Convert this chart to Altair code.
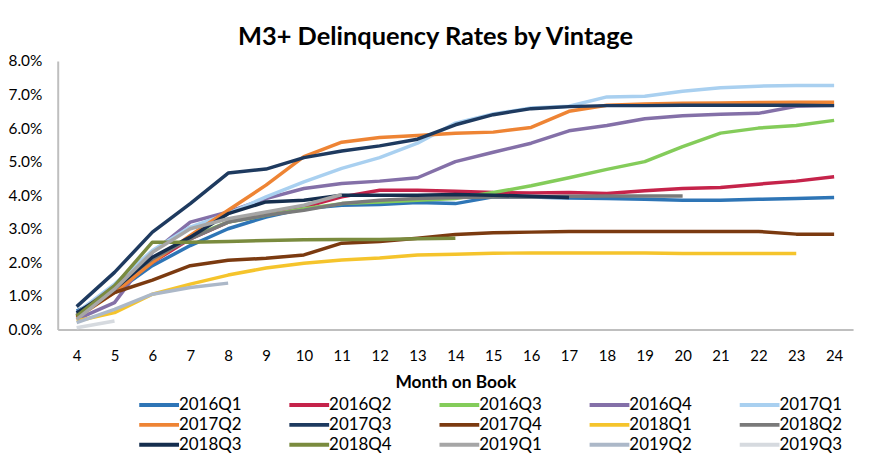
import altair as alt
import pandas as pd

months = list(range(4, 25))
vintages = ["2016Q1", "2016Q2", "2016Q3", "2016Q4", "2017Q1",
            "2017Q2", "2017Q3", "2017Q4", "2018Q1", "2018Q2",
            "2018Q3", "2018Q4", "2019Q1", "2019Q2", "2019Q3"]
colors = ["#2E75B6", "#C5234A", "#84CC5A", "#8470A8", "#A9D0F0",
          "#EE8434", "#1E3A5F", "#7B3A10", "#F5C42C", "#7A7A7A",
          "#152E4E", "#7A8B3E", "#A6A6A6", "#ACB8C8", "#D6DADF"]

# delinquency rate (%) by month on book, starting at month 4
s2016Q1 = [0.55, 1.1, 1.9, 2.5, 3.0, 3.35, 3.6, 3.7, 3.72, 3.78, 3.75, 3.95, 3.95, 3.92, 3.9, 3.88, 3.85, 3.85, 3.88, 3.9, 3.93]
s2016Q2 = [0.4, 1.15, 2.0, 2.7, 3.2, 3.45, 3.65, 3.95, 4.15, 4.15, 4.12, 4.08, 4.07, 4.08, 4.05, 4.13, 4.2, 4.23, 4.33, 4.42, 4.55]
s2016Q3 = [0.4, 1.2, 2.1, 2.75, 3.2, 3.4, 3.6, 3.75, 3.8, 3.85, 3.9, 4.08, 4.28, 4.52, 4.77, 5.0, 5.45, 5.85, 6.0, 6.08, 6.23]
s2016Q4 = [0.3, 0.8, 2.3, 3.2, 3.5, 3.9, 4.2, 4.35, 4.42, 4.52, 5.0, 5.28, 5.55, 5.92, 6.08, 6.28, 6.37, 6.41, 6.44, 6.65, 6.68]
s2017Q1 = [0.5, 1.35, 2.35, 3.05, 3.45, 3.95, 4.4, 4.8, 5.12, 5.55, 6.15, 6.42, 6.6, 6.65, 6.93, 6.95, 7.1, 7.2, 7.25, 7.27, 7.27]
s2017Q2 = [0.35, 1.1, 2.0, 2.8, 3.55, 4.3, 5.15, 5.58, 5.72, 5.78, 5.85, 5.88, 6.02, 6.5, 6.68, 6.72, 6.74, 6.75, 6.76, 6.77, 6.77]
s2017Q3 = [0.68, 1.7, 2.9, 3.75, 4.66, 4.78, 5.12, 5.32, 5.47, 5.67, 6.1, 6.4, 6.58, 6.64, 6.67, 6.67, 6.68, 6.68, 6.68, 6.68, 6.67]
s2017Q4 = [0.38, 1.1, 1.47, 1.9, 2.06, 2.12, 2.22, 2.57, 2.62, 2.72, 2.83, 2.88, 2.9, 2.92, 2.92, 2.92, 2.92, 2.92, 2.92, 2.84, 2.84]
s2018Q1 = [0.25, 0.5, 1.05, 1.35, 1.62, 1.83, 1.97, 2.07, 2.13, 2.22, 2.24, 2.27, 2.28, 2.28, 2.28, 2.28, 2.26, 2.26, 2.26, 2.26]
s2018Q2 = [0.45, 1.3, 2.1, 2.7, 3.2, 3.4, 3.55, 3.75, 3.85, 3.9, 3.93, 3.95, 3.95, 3.97, 3.98, 3.98, 3.98]
s2018Q3 = [0.5, 1.2, 2.15, 2.75, 3.45, 3.8, 3.85, 4.0, 4.0, 4.0, 4.02, 4.0, 3.97, 3.93]
s2018Q4 = [0.4, 1.3, 2.6, 2.6, 2.62, 2.65, 2.67, 2.68, 2.68, 2.7, 2.72]
s2019Q1 = [0.3, 1.2, 2.3, 3.0, 3.3, 3.5, 3.7, 4.02]
s2019Q2 = [0.2, 0.6, 1.05, 1.25, 1.38]
s2019Q3 = [0.05, 0.25]

series = [s2016Q1, s2016Q2, s2016Q3, s2016Q4, s2017Q1, s2017Q2, s2017Q3, s2017Q4,
          s2018Q1, s2018Q2, s2018Q3, s2018Q4, s2019Q1, s2019Q2, s2019Q3]

rows = []
for i, (name, vals) in enumerate(zip(vintages, series)):
    for m, v in zip(months, vals):
        rows.append({"vintage": name, "order": i, "month": m, "rate": v})
df = pd.DataFrame(rows)

FONT = "Lato"

chart = alt.Chart(df).mark_line(strokeWidth=3.5, strokeJoin="round").encode(
    x=alt.X("month:O", title="Month on Book",
            scale=alt.Scale(domain=months),
            axis=alt.Axis(labelAngle=0, ticks=False, labelPadding=19,
                          labelFontSize=15, labelColor="#000000",
                          titleFontSize=17.5, titleFontWeight="bold",
                          titlePadding=10, titleColor="#000000",
                          domainColor="#BFBFBF", domainWidth=2)),
    y=alt.Y("rate:Q", title=None,
            scale=alt.Scale(domain=[0, 8]),
            axis=alt.Axis(values=[0, 1, 2, 3, 4, 5, 6, 7, 8], grid=False, ticks=False,
                          labelExpr="format(datum.value, '.1f') + '%'",
                          labelFontSize=15.5, labelColor="#000000", labelPadding=16,
                          domainColor="#BFBFBF", domainWidth=2)),
    color=alt.Color("vintage:N", sort=vintages,
                    scale=alt.Scale(domain=vintages, range=colors),
                    legend=alt.Legend(title=None, orient="none", legendX=90, legendY=334,
                                      columns=5, direction="horizontal",
                                      symbolType="M-2,0L2,0", symbolSize=400,
                                      symbolStrokeWidth=4, labelFontSize=17,
                                      labelColor="#000000", labelOffset=8,
                                      columnPadding=40, rowPadding=0)),
    order=alt.Order("order:Q"),
    detail="vintage:N",
).properties(
    width=800, height=270,
    title=alt.TitleParams("M3+ Delinquency Rates by Vintage", fontSize=25.5,
                          fontWeight="bold", font=FONT, color="#000000",
                          offset=4, dx=-20),
    autosize=alt.AutoSizeParams(type="none"),
    padding={"left": 50, "top": 52, "right": 10, "bottom": 126},
).configure(font=FONT).configure_view(stroke=None)

chart.save("out.html", embed_options={"renderer": "svg", "actions": False})
